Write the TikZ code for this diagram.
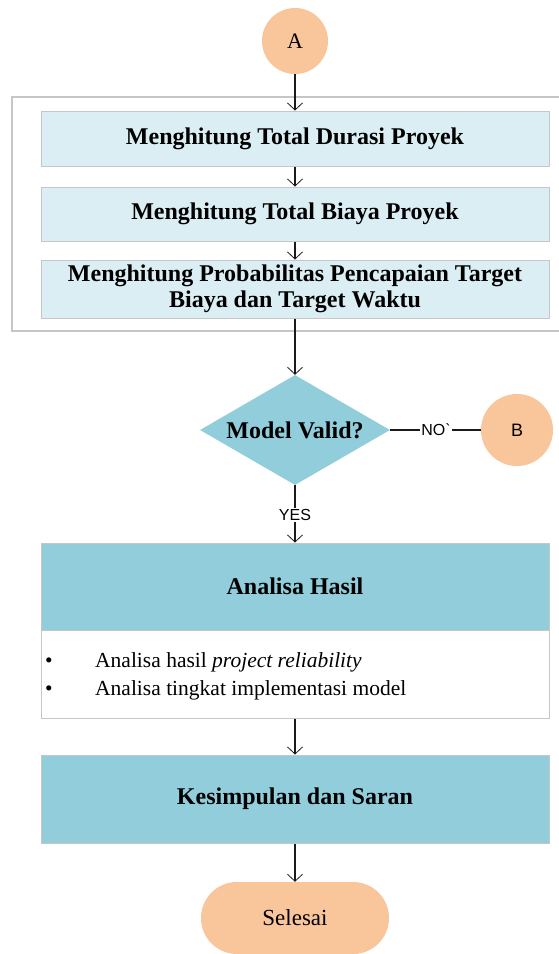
\documentclass[tikz,border=0pt]{standalone}
\usepackage{fontspec}
\setmainfont{Liberation Serif}
\newfontfamily\sansf{Liberation Sans}
\usetikzlibrary{shapes.geometric,arrows.meta}
\definecolor{lightbox}{HTML}{DAEEF3}
\definecolor{midblue}{HTML}{92CDDC}
\definecolor{peach}{HTML}{F9C59B}
\definecolor{boxedge}{HTML}{C6C6C6}
\definecolor{arrowcol}{HTML}{1A1A1A}
\begin{document}
\begin{tikzpicture}[x=1pt,y=-1pt,
  title/.style={font=\fontsize{24}{26.5}\selectfont\bfseries},
  lbox/.style={draw=boxedge, line width=1pt, fill=lightbox, minimum width=508pt, inner sep=0pt, title, align=center},
  dbox/.style={draw=boxedge, line width=1pt, fill=midblue, minimum width=508pt, inner sep=0pt, title},
  wbox/.style={draw=boxedge, line width=1pt, fill=white, minimum width=508pt, inner sep=0pt},
  peachcirc/.style={circle, fill=peach, inner sep=0pt},
  lbl/.style={font=\sansf\fontsize{16}{18}\selectfont, inner sep=1.5pt, text height=11.5pt, text depth=0pt},
  body/.style={font=\fontsize{21.5}{24}\selectfont, inner sep=0pt, anchor=base west},
  flow/.style={draw=arrowcol, line width=1.1pt, -{Straight Barb[length=7pt,width=15pt,line width=0.8pt]}},
  plain/.style={draw=arrowcol, line width=1.1pt}
]
\useasboundingbox (0,0) rectangle (558,954);
% outer group frame
\node[draw=boxedge, line width=1.4pt, minimum width=552pt, minimum height=234pt, inner sep=0pt] (group) at (288,214) {};

\node[peachcirc, minimum size=66pt, font=\fontsize{22}{24}\selectfont] (A) at (295,41) {A};

\node[lbox, minimum height=55pt] (b1) at (295,138.5) {Menghitung Total Durasi Proyek};
\node[lbox, minimum height=54pt] (b2) at (295,214) {Menghitung Total Biaya Proyek};
\node[lbox, minimum height=58pt] (b3) at (295,289) {Menghitung Probabilitas Pencapaian Target\\Biaya dan Target Waktu};

\node[diamond, shape aspect=1.75, fill=midblue, minimum width=190pt, minimum height=110pt, inner sep=0pt, title] (dec) at (295,430) {Model Valid?};

\node[peachcirc, minimum size=72pt, font=\sansf\fontsize{18}{20}\selectfont] (B) at (517,430) {B};
\node[lbl] (no) at (436,430) {NO`};
\node[lbl] (yes) at (295,515) {YES};

\node[dbox, minimum height=87pt] (hdr) at (295,586.5) {Analisa Hasil};
\node[wbox, minimum height=88pt] (bodyb) at (295,674) {};
\node[body] (u1) at (45,667) {•};
\node[body] (t1) at (95,667) {Analisa hasil \textit{project reliability}};
\node[body] (u2) at (45,695) {•};
\node[body] (t2) at (95,695) {Analisa tingkat implementasi model};

\node[dbox, minimum height=88pt] (kes) at (295,799) {Kesimpulan dan Saran};
\node[rectangle, rounded corners=35.9pt, fill=peach, minimum width=188pt, minimum height=72pt, inner sep=0pt, font=\fontsize{23}{25}\selectfont] (end) at (295,918) {Selesai};

\draw[flow] (A) -- (b1);
\draw[flow] (b1) -- (b2);
\draw[flow] (b2) -- (b3);
\draw[flow] (b3) -- (dec);
\draw[plain] (dec.east) -- (no.west);
\draw[plain] (no.east) -- (B.west);
\draw[plain] (dec.south) -- (yes.north);
\draw[flow] (yes.south) -- (hdr.north);
\draw[flow] (bodyb) -- (kes);
\draw[flow] (kes) -- (end);
\end{tikzpicture}
\end{document}
